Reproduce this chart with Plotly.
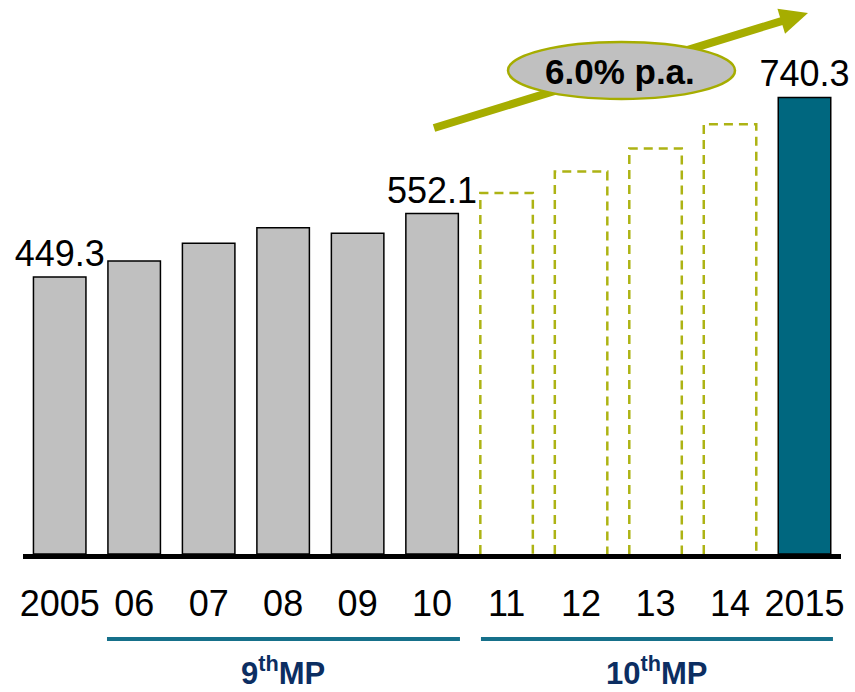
import plotly.graph_objects as go

# Values (index, bn) by year
years = ["2005", "06", "07", "08", "09", "10", "11", "12", "13", "14", "2015"]
actual = [449.3, 475.0, 504.0, 529.0, 520.0, 552.1]          # 2005-2010
projected = [585.2, 620.3, 657.6, 697.0]                      # 2011-2014
target = [740.3]                                              # 2015
labelled_years = ["2005", "10", "2015"]
growth_label = "6.0% p.a."
plan_labels = ["9<sup>th</sup>MP", "10<sup>th</sup>MP"]

W, H = 855, 692
ML, MR, MT, MB = 23, 14, 0, 138
BAR_W = 0.705
FONT = "Liberation Sans, Arial, sans-serif"

GRAY = "#c0c0c0"
TEAL = "#00677f"
OLIVE = "#a6ad00"
DASH_OLIVE = "#adb314"
LINE_TEAL = "#16708a"
NAVY = "#0c2e62"

x_all = list(range(len(years)))
x_act = x_all[:len(actual)]
x_proj = x_all[len(actual):len(actual) + len(projected)]
x_tgt = x_all[len(actual) + len(projected):]


def value_text(xs, vals):
    return [f"{v:.1f}" if years[x] in labelled_years else "" for x, v in zip(xs, vals)]


fig = go.Figure()

fig.add_trace(go.Bar(
    x=x_act, y=actual, width=BAR_W,
    marker=dict(color=GRAY, line=dict(color="black", width=1.5)),
    text=value_text(x_act, actual), textposition="outside", constraintext="none",
    textfont=dict(family=FONT, size=36, color="black"),
    cliponaxis=False, showlegend=False, hoverinfo="skip",
))

# projected years: dashed open outlines
for x, v in zip(x_proj, projected):
    fig.add_trace(go.Scatter(
        x=[x - BAR_W / 2, x - BAR_W / 2, x + BAR_W / 2, x + BAR_W / 2],
        y=[0, v, v, 0], mode="lines",
        line=dict(color=DASH_OLIVE, width=2.5, dash="9px,6px"),
        showlegend=False, hoverinfo="skip",
    ))

fig.add_trace(go.Bar(
    x=x_tgt, y=target, width=BAR_W,
    marker=dict(color=TEAL, line=dict(color="black", width=1.5)),
    text=value_text(x_tgt, target), textposition="outside", constraintext="none",
    textfont=dict(family=FONT, size=36, color="black"),
    cliponaxis=False, showlegend=False, hoverinfo="skip",
))

plot_w = W - ML - MR
plot_h = H - MT - MB


def px(X):
    return (X - ML) / plot_w


def py(Y):
    return (MT + plot_h - Y) / plot_h


shapes = []
# growth arrow: shaft, then head
tail = (434, 128)
tip = (808, 13)
dx, dy = tip[0] - tail[0], tip[1] - tail[1]
L = (dx ** 2 + dy ** 2) ** 0.5
ux, uy = dx / L, dy / L
nx, ny = -uy, ux
head_len, head_half = 28, 13
bx, by = tip[0] - head_len * ux, tip[1] - head_len * uy
shapes.append(dict(type="line", xref="paper", yref="paper",
                   x0=px(tail[0]), y0=py(tail[1]), x1=px(bx + 2 * ux), y1=py(by + 2 * uy),
                   line=dict(color=OLIVE, width=8), layer="above"))
c1 = (bx + head_half * nx, by + head_half * ny)
c2 = (bx - head_half * nx, by - head_half * ny)
shapes.append(dict(type="path", xref="paper", yref="paper",
                   path=f"M {px(tip[0])},{py(tip[1])} L {px(c1[0])},{py(c1[1])} L {px(c2[0])},{py(c2[1])} Z",
                   fillcolor=OLIVE, line=dict(color=OLIVE, width=0), layer="above"))
# growth-rate ellipse
shapes.append(dict(type="circle", xref="paper", yref="paper",
                   x0=px(508), x1=px(735), y0=py(99), y1=py(42),
                   fillcolor=GRAY, line=dict(color=OLIVE, width=2.5), layer="above"))

# plan-period underlines
plan_spans = [(0.635, 5.374), (5.656, 10.382)]
for x0, x1 in plan_spans:
    shapes.append(dict(type="line", xref="x", yref="paper",
                       x0=x0, x1=x1, y0=py(639), y1=py(639),
                       line=dict(color=LINE_TEAL, width=4)))

annotations = [
    dict(xref="paper", yref="paper", x=px(620), y=py(71), text=f"<b>{growth_label}</b>",
         showarrow=False, font=dict(family=FONT, size=35, color="black"),
         xanchor="center", yanchor="middle"),
]
for (x0, x1), lab in zip(plan_spans, plan_labels):
    annotations.append(dict(xref="x", yref="paper", x=(x0 + x1) / 2, y=py(671),
                            text=f"<b>{lab}</b>", showarrow=False,
                            font=dict(family=FONT, size=31, color=NAVY),
                            xanchor="center", yanchor="middle"))

spacing = 74.48
x_lo = -(59.7 - ML) / spacing
x_hi = x_lo + plot_w / spacing
y_scale = 0.6167
y_hi = plot_h / y_scale

fig.update_layout(
    width=W, height=H,
    margin=dict(l=ML, r=MR, t=MT, b=MB, pad=0),
    paper_bgcolor="white", plot_bgcolor="white",
    barmode="overlay",
    shapes=shapes, annotations=annotations,
    xaxis=dict(range=[x_lo, x_hi], tickvals=x_all, ticktext=years,
               showgrid=False, zeroline=False, showline=True,
               linecolor="black", linewidth=5, ticks="",
               ticklabelstandoff=14,
               tickfont=dict(family=FONT, size=36, color="black")),
    yaxis=dict(range=[0, y_hi], visible=False, showgrid=False, zeroline=False),
)

fig.write_html("out.html")
